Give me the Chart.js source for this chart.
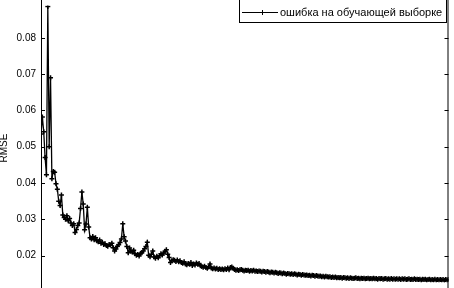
<!DOCTYPE html>
<html>
<head>
<meta charset="utf-8">
<script src="https://cdn.jsdelivr.net/npm/chart.js@4/dist/chart.umd.min.js"></script>
<style>
  html, body { margin: 0; padding: 0; background: #fff; }
  #wrap { width: 454px; height: 288px; }
</style>
</head>
<body>
<div id="wrap"><canvas id="rmseChart" width="454" height="288"></canvas></div>
<script>
// RMSE on the training set, one value per epoch
const rmseTrain = [
  0.0535, 0.0582, 0.0541, 0.0470, 0.0423, 0.0886, 0.0500, 0.0690, 0.0412, 0.0432,
  0.0430, 0.0398, 0.0383, 0.0350, 0.0338, 0.0367, 0.0312, 0.0305, 0.0300, 0.0310,
  0.0296, 0.0302, 0.0290, 0.0283, 0.0288, 0.0264, 0.0272, 0.0283, 0.0290, 0.0330,
  0.0375, 0.0342, 0.0271, 0.0287, 0.0333, 0.0279, 0.0249, 0.0246, 0.0253, 0.0244,
  0.0249, 0.0241, 0.0238, 0.0243, 0.0234, 0.0237, 0.0231, 0.0233, 0.0228, 0.0226,
  0.0231, 0.0229, 0.0234, 0.0222, 0.0213, 0.0218, 0.0226, 0.0230, 0.0236, 0.0246,
  0.0288, 0.0252, 0.0240, 0.0225, 0.0208, 0.0221, 0.0212, 0.0210, 0.0215, 0.0205,
  0.0201, 0.0203, 0.0199, 0.0206, 0.0208, 0.0213, 0.0219, 0.0225, 0.0237, 0.0201,
  0.0197, 0.0204, 0.0213, 0.0196, 0.0193, 0.0198, 0.0194, 0.0200, 0.0205, 0.0202,
  0.0207, 0.0212, 0.0216, 0.0204, 0.0195, 0.0181, 0.0186, 0.0189, 0.0187, 0.0184,
  0.0188, 0.0183, 0.0186, 0.0181, 0.0179, 0.0183, 0.0177, 0.0175, 0.0178, 0.0176,
  0.0181, 0.0173, 0.0177, 0.0174, 0.0180, 0.0176, 0.0178, 0.0172, 0.0170, 0.0168,
  0.0171, 0.0167, 0.0165, 0.0169, 0.0177, 0.0166, 0.0164, 0.0166, 0.0163, 0.0165,
  0.0162, 0.0164, 0.0162, 0.0163, 0.0161, 0.0164, 0.0162, 0.0166, 0.0161, 0.0167,
  0.0169, 0.0165, 0.0162, 0.0160, 0.0161, 0.0159, 0.0161, 0.0162, 0.0160, 0.0158,
  0.0160, 0.0159, 0.0160, 0.0157, 0.0159, 0.0158, 0.0160, 0.0157, 0.0158, 0.0156,
  0.0158, 0.0157, 0.0155, 0.0157, 0.0156, 0.0154, 0.0156, 0.0155, 0.0153, 0.0155,
  0.0154, 0.0152, 0.0154, 0.0153, 0.0151, 0.0153, 0.0152, 0.0150, 0.0152, 0.0151,
  0.0149, 0.0151, 0.0150, 0.0149, 0.0150, 0.0148, 0.0150, 0.0149, 0.0147, 0.0149,
  0.0148, 0.0146, 0.0148, 0.0147, 0.0146, 0.0147, 0.0145, 0.0146, 0.0144, 0.0146,
  0.0145, 0.0143, 0.0145, 0.0144, 0.0143, 0.0144, 0.0142, 0.0143, 0.0141, 0.0143,
  0.0142, 0.0141, 0.0142, 0.0140, 0.0141, 0.0140, 0.0141, 0.0139, 0.0140, 0.0139,
  0.0140, 0.0138, 0.0140, 0.0139, 0.0138, 0.0139, 0.0137, 0.0139, 0.0138, 0.0137,
  0.0138, 0.0139, 0.0137, 0.0138, 0.0136, 0.0138, 0.0137, 0.0138, 0.0136, 0.0137,
  0.0138, 0.0136, 0.0137, 0.0136, 0.0138, 0.0136, 0.0137, 0.0135, 0.0137, 0.0136,
  0.0137, 0.0135, 0.0136, 0.0137, 0.0135, 0.0136, 0.0135, 0.0137, 0.0135, 0.0136,
  0.0135, 0.0136, 0.0135, 0.0136, 0.0134, 0.0136, 0.0135, 0.0136, 0.0134, 0.0135,
  0.0136, 0.0134, 0.0135, 0.0134, 0.0136, 0.0134, 0.0135, 0.0134, 0.0135, 0.0133,
  0.0135, 0.0134, 0.0135, 0.0133, 0.0134, 0.0135, 0.0133, 0.0134, 0.0133, 0.0135,
  0.0133, 0.0134, 0.0133, 0.0134, 0.0133, 0.0134, 0.0132, 0.0134, 0.0133, 0.0134
];
const epochs = rmseTrain.map((_, i) => i + 1); // epoch number

const yTickValues = [0.02, 0.03, 0.04, 0.05, 0.06, 0.07, 0.08];
const yTickLabels = ['0.02', '0.03', '0.04', '0.05', '0.06', '0.07', '0.08'];
const seriesLabel = 'ошибка на обучающей выборке';
const yTitle = 'RMSE';

const FONT = '"Liberation Sans", Arial, sans-serif';

// matlab-like box: right axis line, inward ticks, rotated y label and the legend box
const matlabFrame = {
    id: 'matlabFrame',
    afterDraw: (chart) => {
        const ctx = chart.ctx;
        const area = chart.chartArea;
        const y = chart.scales.y;
        ctx.save();
        ctx.strokeStyle = '#000';
        ctx.lineWidth = 1;

        // axis lines (top and bottom are outside the crop)
        ctx.beginPath();
        ctx.moveTo(area.left + 0.5, 0);
        ctx.lineTo(area.left + 0.5, chart.height);
        ctx.moveTo(area.right - 0.5, 0);
        ctx.lineTo(area.right - 0.5, chart.height);
        ctx.stroke();

        // inward ticks on both sides
        ctx.beginPath();
        y.ticks.forEach(t => {
            const py = Math.round(y.getPixelForValue(t.value)) + 0.5;
            ctx.moveTo(area.left, py);
            ctx.lineTo(area.left + 4, py);
            ctx.moveTo(area.right, py);
            ctx.lineTo(area.right - 4, py);
        });
        ctx.stroke();

        // y title
        ctx.fillStyle = '#000';
        ctx.font = '10px ' + FONT;
        ctx.textAlign = 'center';
        ctx.textBaseline = 'middle';
        ctx.translate(4, 148);
        ctx.rotate(-Math.PI / 2);
        ctx.fillText(yTitle, 0, 0);
        ctx.setTransform(1, 0, 0, 1, 0, 0);

        // legend
        const lx = 239.5, lw = 207, ly = -0.5, lh = 23;
        ctx.fillStyle = '#fff';
        ctx.fillRect(lx, ly, lw, lh);
        ctx.strokeRect(lx, ly, lw, lh);
        const my = 12.5;
        ctx.beginPath();
        ctx.moveTo(242, my);
        ctx.lineTo(278, my);
        ctx.moveTo(262.5 - 2.5, my);
        ctx.lineTo(262.5 + 2.5, my);
        ctx.moveTo(262.5, my - 2.5);
        ctx.lineTo(262.5, my + 2.5);
        ctx.stroke();
        ctx.fillStyle = '#000';
        ctx.font = '11px ' + FONT;
        ctx.textAlign = 'left';
        ctx.textBaseline = 'middle';
        ctx.fillText(chart.data.datasets[0].label, 280, my + 0.5);
        ctx.restore();
    }
};

new Chart(document.getElementById('rmseChart').getContext('2d'), {
    type: 'line',
    plugins: [matlabFrame],
    data: {
        labels: epochs,
        datasets: [{
            label: seriesLabel,
            data: rmseTrain,
            borderColor: '#000',
            borderWidth: 1.3,
            pointStyle: 'cross',
            pointRadius: 2.5,
            pointBorderColor: '#000',
            pointBorderWidth: 1.5,
            tension: 0,
            fill: false
        }]
    },
    options: {
        responsive: false,
        animation: false,
        layout: { padding: { left: 0, right: 2, top: 0, bottom: 0 } },
        plugins: {
            legend: { display: false },
            tooltip: { enabled: false }
        },
        scales: {
            x: {
                type: 'linear',
                min: 1,
                max: rmseTrain.length,
                display: false
            },
            y: {
                min: 0.0126,
                max: 0.0889,
                afterBuildTicks: (scale) => {
                    scale.ticks = yTickValues.map(v => ({ value: v }));
                },
                afterFit: (scale) => {
                    scale.width = 41;
                    scale.paddingTop = 0;
                    scale.paddingBottom = 0;
                },
                grid: { display: false, drawTicks: false },
                border: { display: false },
                ticks: {
                    padding: 5,
                    color: '#000',
                    font: { family: FONT, size: 10 },
                    callback: (value, index) => yTickLabels[index]
                }
            }
        }
    }
});
</script>
</body>
</html>
